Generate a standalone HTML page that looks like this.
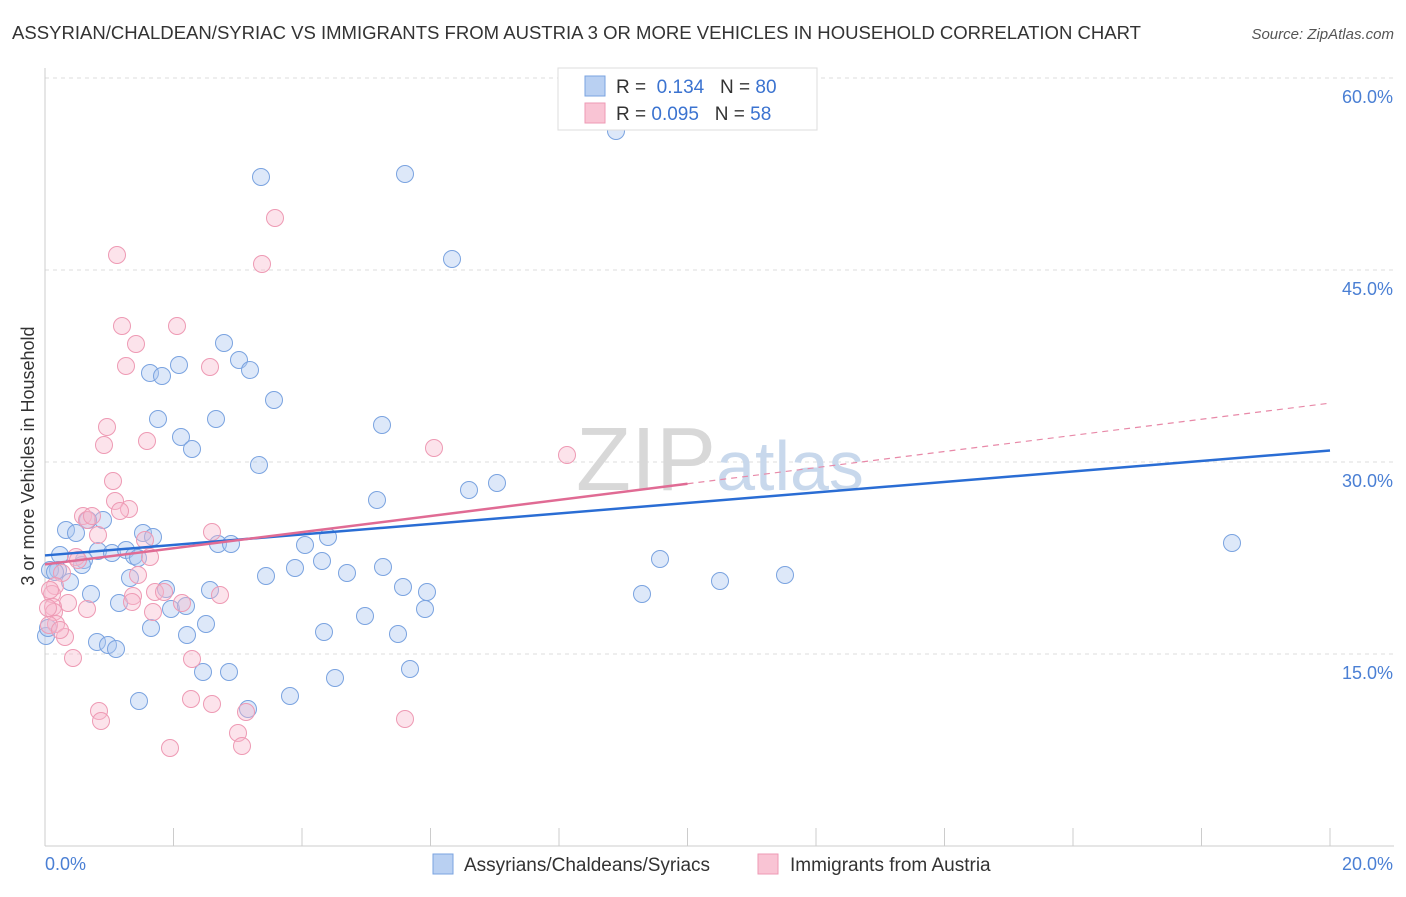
<!DOCTYPE html>
<html><head><meta charset="utf-8"><style>
body{margin:0;background:#fff;font-family:"Liberation Sans",sans-serif;}
svg text{font-family:"Liberation Sans",sans-serif;}
</style></head><body>
<svg width="1406" height="892">
<text x="12" y="39" font-size="18" fill="#333" textLength="1129" lengthAdjust="spacingAndGlyphs">ASSYRIAN/CHALDEAN/SYRIAC VS IMMIGRANTS FROM AUSTRIA 3 OR MORE VEHICLES IN HOUSEHOLD CORRELATION CHART</text>
<text x="1394" y="39" font-size="15" fill="#555" font-style="italic" text-anchor="end">Source: ZipAtlas.com</text>
<g id="grid"></g>
<text x="720" y="490" font-size="90" fill="#d8d8d8" text-anchor="middle" font-family="Liberation Serif">ZIP<tspan fill="#c8d8ec" font-family="Liberation Sans" font-size="70">atlas</tspan></text>
<g id="pts"></g>
<g id="trends"></g>
<text transform="translate(34,456) rotate(-90)" font-size="18" fill="#333" text-anchor="middle">3 or more Vehicles in Household</text>
<text x="45" y="870" font-size="18" fill="#4a7fd4">0.0%</text>
<text x="1393" y="870" font-size="18" fill="#4a7fd4" text-anchor="end">20.0%</text>
<g>
<rect x="558" y="68" width="259" height="62" fill="#fff" stroke="#ddd"/>
<rect x="585" y="76" width="20" height="20" fill="#b9d0f2" stroke="#7aa3e0"/>
<rect x="585" y="103" width="20" height="20" fill="#f9c4d4" stroke="#ee9ab4"/>
<text x="616" y="93" font-size="19" fill="#333">R = <tspan fill="#3b73d0">&#160;0.134</tspan>&#160;&#160;&#160;N = <tspan fill="#3b73d0">80</tspan></text>
<text x="616" y="120" font-size="19" fill="#333">R = <tspan fill="#3b73d0">0.095</tspan>&#160;&#160;&#160;N = <tspan fill="#3b73d0">58</tspan></text>
</g>
<g>
<rect x="433" y="854" width="20" height="20" fill="#b9d0f2" stroke="#7aa3e0"/>
<text x="464" y="871" font-size="19" fill="#333">Assyrians/Chaldeans/Syriacs</text>
<rect x="758" y="854" width="20" height="20" fill="#f9c4d4" stroke="#ee9ab4"/>
<text x="790" y="871" font-size="19" fill="#333">Immigrants from Austria</text>
</g>
</svg>
<script>
const yTicks=[15,30,45,60];
const yTickLabels=["15.0%","30.0%","45.0%","60.0%"];
const xTicks=[0,2,4,6,8,10,12,14,16,18,20];
const blueX=[616,261,405,452,224,239,179,150,162,250,274,158,216,382,181,192,259,377,469,497,66,76,103,88,143,153,60,84,98,112,126,134,138,218,305,328,231,660,1232,58,70,82,130,166,210,266,295,322,347,383,403,427,642,720,785,91,119,171,186,206,365,425,151,187,324,398,97,108,116,46,203,229,410,290,335,139,248,50,55,48].map(p=>(p-45)/1285*20);
const blueY=[131,177,174,259,343,360,365,373,376,370,400,419,419,425,437,449,465,500,490,483,530,533,520,520,533,537,555,560,551,553,550,556,558,544,545,537,544,559,543,570,582,565,578,589,590,576,568,561,573,567,587,592,594,581,575,594,603,609,606,624,616,609,628,635,632,634,642,645,649,636,672,672,669,696,678,701,709,570,572,628].map(p=>(846-p)*15/192);
const pinkX=[275,117,262,122,177,136,126,210,107,104,147,434,567,113,115,129,120,83,87,92,98,212,145,150,76,78,62,138,55,52,220,133,132,68,182,53,87,54,153,56,49,65,192,73,99,101,191,212,246,238,170,242,405,50,48,155,164,60].map(p=>(p-45)/1285*20);
const pinkY=[218,255,264,326,326,344,366,367,427,445,441,448,455,481,501,509,511,516,520,516,535,532,540,557,557,560,573,575,586,594,595,596,602,603,603,607,609,612,612,624,625,637,659,658,711,721,699,704,712,733,748,746,719,590,608,592,592,630].map(p=>(846-p)*15/192);
const blueTrend=[22.7,30.9];
const pinkTrend=[22.0,34.6];
const NS="http://www.w3.org/2000/svg";
const sx=v=>45+v/20*1285, sy=v=>846-v/15*192;
function mk(t,a,parent){const e=document.createElementNS(NS,t);for(const k in a)e.setAttribute(k,a[k]);parent.appendChild(e);return e;}
const grid=document.getElementById('grid');
yTicks.forEach((t,i)=>{
 const l=mk('line',{x1:45,x2:1394,y1:sy(t),y2:sy(t),stroke:'#ddd','stroke-dasharray':'4,4'},grid);
 
 
 const tx=mk('text',{x:1393,y:sy(t)+25,'font-size':18,fill:'#4a7fd4','text-anchor':'end'},grid);
 tx.textContent=yTickLabels[i];
 
 
});
const ax=mk('line',{x1:45,x2:1394,y1:846,y2:846,stroke:'#ccc'},grid);


const ay=mk('line',{x1:45,x2:45,y1:68,y2:846,stroke:'#ccc'},grid);


xTicks.forEach(t=>{
 const l=mk('line',{x1:sx(t),x2:sx(t),y1:828,y2:846,stroke:'#ccc'},grid);
 
 
});
const pts=document.getElementById('pts');
blueX.forEach((x,i)=>{
 const c=mk('circle',{cx:sx(x),cy:sy(blueY[i]),r:8.5,fill:'rgba(170,198,240,0.4)',stroke:'#7aa3e0','stroke-width':1},pts);
 
 
});
pinkX.forEach((x,i)=>{
 const c=mk('circle',{cx:sx(x),cy:sy(pinkY[i]),r:8.5,fill:'rgba(248,185,205,0.4)',stroke:'#ee9ab4','stroke-width':1},pts);
 
 
});
const tr=document.getElementById('trends');
const bt=mk('line',{x1:sx(0),y1:sy(blueTrend[0]),x2:sx(20),y2:sy(blueTrend[1]),stroke:'#2a6dd4','stroke-width':2.5},tr);


const pAt=v=>pinkTrend[0]+(pinkTrend[1]-pinkTrend[0])*v/20;
const pd=mk('line',{x1:sx(10),y1:sy(pAt(10)),x2:sx(20),y2:sy(pAt(20)),stroke:'#e889a8','stroke-width':1.2,'stroke-dasharray':'6,5'},tr);


const ps=mk('line',{x1:sx(0),y1:sy(pAt(0)),x2:sx(10),y2:sy(pAt(10)),stroke:'#e06b94','stroke-width':2.5},tr);


</script>
</body></html>
